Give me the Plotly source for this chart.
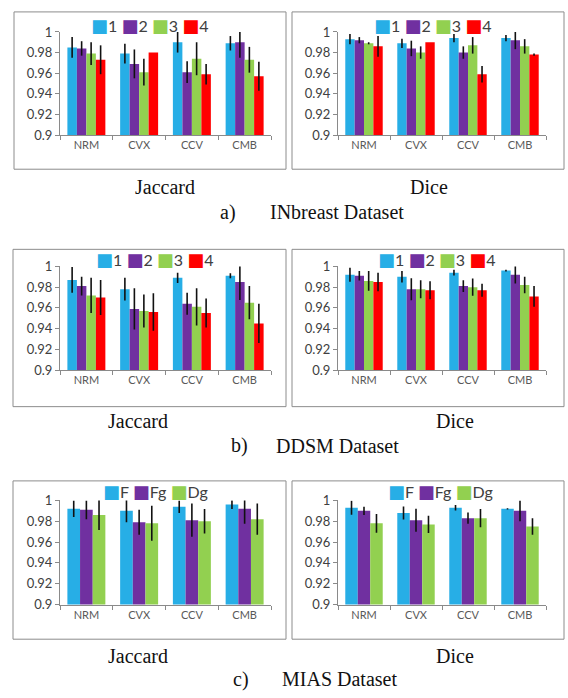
import plotly.graph_objects as go

categories = ["NRM", "CVX", "CCV", "CMB"]
names4 = ["1", "2", "3", "4"]
names3 = ["F", "Fg", "Dg"]
colors4 = ["#27AEE6", "#7030A0", "#92D050", "#FF0000"]
colors3 = ["#27AEE6", "#7030A0", "#92D050"]
y_ticks = [0.9, 0.92, 0.94, 0.96, 0.98, 1.0]
y_ticktext = ["0.9", "0.92", "0.94", "0.96", "0.98", "1"]

# a) INbreast - Jaccard
inb_jac_vals = [
    [0.985, 0.979, 0.990, 0.989],
    [0.984, 0.969, 0.961, 0.990],
    [0.979, 0.961, 0.974, 0.973],
    [0.973, 0.980, 0.959, 0.957],
]
inb_jac_err = [
    [0.010, 0.0095, 0.010, 0.007],
    [0.007, 0.014, 0.0105, 0.015],
    [0.011, 0.013, 0.016, 0.0125],
    [0.014, 0.0, 0.010, 0.014],
]
# a) INbreast - Dice
inb_dice_vals = [
    [0.993, 0.989, 0.994, 0.994],
    [0.992, 0.984, 0.980, 0.992],
    [0.989, 0.980, 0.987, 0.986],
    [0.986, 0.990, 0.959, 0.978],
]
inb_dice_err = [
    [0.005, 0.0045, 0.004, 0.003],
    [0.003, 0.0075, 0.006, 0.0087],
    [0.001, 0.006, 0.008, 0.007],
    [0.010, 0.0, 0.008, 0.001],
]
# b) DDSM - Jaccard
ddsm_jac_vals = [
    [0.987, 0.978, 0.989, 0.991],
    [0.981, 0.959, 0.964, 0.985],
    [0.972, 0.957, 0.961, 0.965],
    [0.970, 0.956, 0.955, 0.945],
]
ddsm_jac_err = [
    [0.0125, 0.011, 0.005, 0.0025],
    [0.009, 0.020, 0.0106, 0.0175],
    [0.017, 0.016, 0.018, 0.016],
    [0.017, 0.018, 0.014, 0.019],
]
# b) DDSM - Dice
ddsm_dice_vals = [
    [0.992, 0.990, 0.994, 0.996],
    [0.991, 0.978, 0.981, 0.992],
    [0.986, 0.978, 0.980, 0.982],
    [0.985, 0.977, 0.977, 0.971],
]
ddsm_dice_err = [
    [0.0067, 0.0055, 0.0027, 0.0008],
    [0.0046, 0.0106, 0.0056, 0.0084],
    [0.0095, 0.0087, 0.0084, 0.008],
    [0.009, 0.0087, 0.0063, 0.010],
]
# c) MIAS - Jaccard
mias_jac_vals = [
    [0.992, 0.990, 0.994, 0.996],
    [0.991, 0.979, 0.981, 0.992],
    [0.986, 0.978, 0.980, 0.982],
]
mias_jac_err = [
    [0.008, 0.011, 0.006, 0.0042],
    [0.009, 0.012, 0.016, 0.0145],
    [0.0145, 0.0168, 0.0118, 0.015],
]
# c) MIAS - Dice
mias_dice_vals = [
    [0.993, 0.988, 0.993, 0.992],
    [0.990, 0.981, 0.983, 0.990],
    [0.978, 0.977, 0.983, 0.975],
]
mias_dice_err = [
    [0.0068, 0.0063, 0.0027, 0.0006],
    [0.004, 0.011, 0.0055, 0.010],
    [0.009, 0.0084, 0.0087, 0.0079],
]

metric_captions = ["Jaccard", "Dice"]
dataset_labels = ["a)", "b)", "c)"]
dataset_names = ["INbreast Dataset", "DDSM Dataset", "MIAS Dataset"]

W, H = 568, 698


def px_x(v):
    return v / W


def px_y(v):
    return 1 - v / H


# layout geometry (pixels)
panels = [
    # vals, errs, names, colors, plot x0, x1, y top(1.0), y bottom(0.9), legend cx, legend cy
    (inb_jac_vals, inb_jac_err, names4, colors4, 60, 271, 24.5, 130, 150, 17),
    (inb_dice_vals, inb_dice_err, names4, colors4, 338, 546, 24.5, 130, 433, 17),
    (ddsm_jac_vals, ddsm_jac_err, names4, colors4, 60, 271, 264.5, 370.5, 155, 257),
    (ddsm_dice_vals, ddsm_dice_err, names4, colors4, 338, 546, 264.5, 370.5, 437, 257),
    (mias_jac_vals, mias_jac_err, names3, colors3, 60, 271, 504, 610.5, 155, 494),
    (mias_dice_vals, mias_dice_err, names3, colors3, 338, 546, 504, 610.5, 440, 494),
]
boxes = [
    (14, 4, 286, 165), (292, 4, 564, 165),
    (13, 247, 286, 408), (292, 247, 564, 408),
    (13, 484, 286, 646), (292, 484, 564, 646),
]
caption_pos = [
    # jaccard x, dice x, metric y, label x, name x, dataset y
    (165, 429, 183, 228, 337, 209),
    (138, 455, 423, 239, 337, 448),
    (138, 455, 663, 241, 339, 687),
]

fig = go.Figure()
shapes = []
annotations = []
axis_col = "#8A8A8A"

for i, (vals, errs, names, cols, x0, x1, yt, yb, lcx, lcy) in enumerate(panels):
    k = "" if i == 0 else str(i + 1)
    for s in range(len(names)):
        fig.add_trace(go.Bar(
            x=categories, y=vals[s], name=names[s],
            marker=dict(color=cols[s], line=dict(width=0)),
            error_y=dict(type="data", array=errs[s], color="#111111",
                         thickness=1.6, width=0),
            xaxis="x" + k, yaxis="y" + k, showlegend=False,
        ))
    fig.layout["xaxis" + k] = dict(
        domain=[px_x(x0), px_x(x1)], anchor="y" + k,
        showline=True, linecolor=axis_col, linewidth=1,
        ticks="outside", tickson="boundaries", ticklen=4, tickcolor=axis_col,
        showgrid=False, zeroline=False, fixedrange=True,
        tickfont=dict(family="Lato, Open Sans, sans-serif", size=11, color="#595959"),
    )
    fig.layout["yaxis" + k] = dict(
        domain=[px_y(yb), px_y(yt)], anchor="x" + k,
        range=[0.9, 1.0], tickvals=y_ticks, ticktext=y_ticktext,
        showline=True, linecolor=axis_col, linewidth=1,
        ticks="outside", ticklen=4, tickcolor=axis_col,
        showgrid=False, zeroline=False, fixedrange=True,
        tickfont=dict(family="Lato, Open Sans, sans-serif", size=13, color="#404040"),
    )
    # compact legend as text
    parts = []
    for n, c in zip(names, cols):
        parts.append('<span style="color:%s;font-size:18px">■</span>%s' % (c, n))
    annotations.append(dict(
        text=" ".join(parts), x=px_x(lcx), y=px_y(lcy), xref="paper", yref="paper",
        xanchor="center", yanchor="middle", showarrow=False,
        font=dict(family="Lato, DejaVu Sans, sans-serif", size=16, color="#404040"),
    ))

for (bx0, by0, bx1, by1) in boxes:
    shapes.append(dict(type="rect", xref="paper", yref="paper",
                       x0=px_x(bx0), x1=px_x(bx1), y0=px_y(by1), y1=px_y(by0),
                       line=dict(color="#8C8C8C", width=1), layer="below"))

serif = dict(family="Liberation Serif, Times New Roman, serif", size=20, color="#111111")
for r, (jx, dx, my, lx, nx, dy) in enumerate(caption_pos):
    annotations.append(dict(text=metric_captions[0], x=px_x(jx), y=px_y(my), xref="paper", yref="paper",
                            xanchor="center", yanchor="middle", showarrow=False, font=serif))
    annotations.append(dict(text=metric_captions[1], x=px_x(dx), y=px_y(my), xref="paper", yref="paper",
                            xanchor="center", yanchor="middle", showarrow=False, font=serif))
    annotations.append(dict(text=dataset_labels[r], x=px_x(lx), y=px_y(dy), xref="paper", yref="paper",
                            xanchor="center", yanchor="middle", showarrow=False, font=serif))
    annotations.append(dict(text=dataset_names[r], x=px_x(nx), y=px_y(dy), xref="paper", yref="paper",
                            xanchor="center", yanchor="middle", showarrow=False, font=serif))

fig.update_layout(
    width=W, height=H, margin=dict(l=0, r=0, t=0, b=0),
    paper_bgcolor="white", plot_bgcolor="white",
    barmode="group", bargap=0.28, bargroupgap=0,
    showlegend=False, shapes=shapes, annotations=annotations,
    hovermode=False,
)

fig.write_html(
    "out.html",
    config={"displayModeBar": False, "staticPlot": True},
    post_script="document.body.style.margin='0px';document.body.style.overflow='hidden';",
)
